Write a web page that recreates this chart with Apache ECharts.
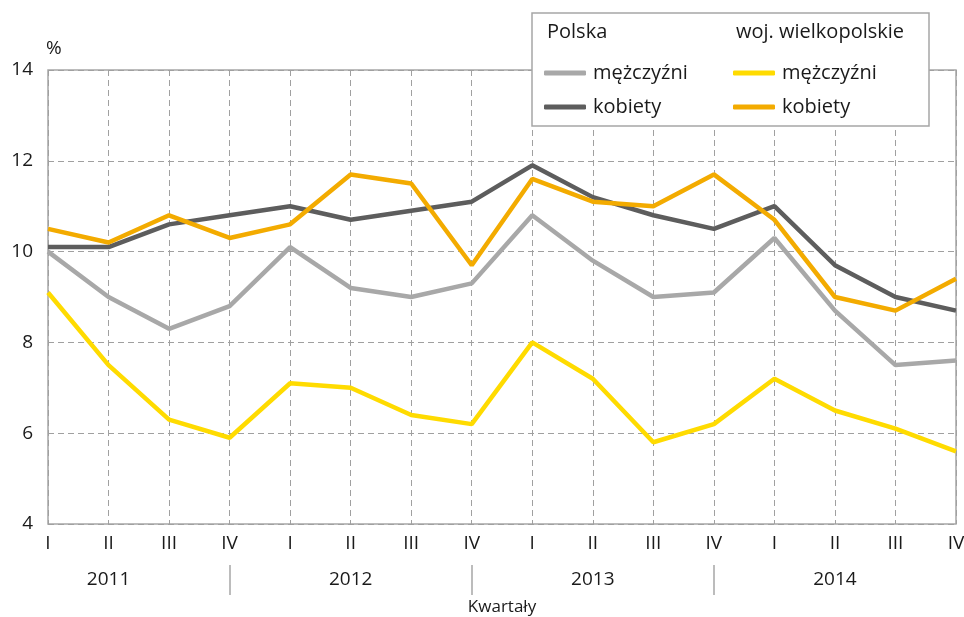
<!DOCTYPE html>
<html>
<head>
<meta charset="utf-8">
<script src="https://cdn.jsdelivr.net/npm/echarts@6/dist/echarts.min.js"></script>
<style>
  html, body { margin: 0; padding: 0; background: #fff; }
  #chart { width: 964px; height: 617px; }
</style>
</head>
<body>
<div id="chart"></div>
<script>
// quarters 2011-2014
var quarters = ['I', 'II', 'III', 'IV', 'I', 'II', 'III', 'IV', 'I', 'II', 'III', 'IV', 'I', 'II', 'III', 'IV'];
var years = ['', '2011', '', '', '', '2012', '', '', '', '2013', '', '', '', '2014', '', ''];

var plMen = [10.0, 9.0, 8.3, 8.8, 10.1, 9.2, 9.0, 9.3, 10.8, 9.8, 9.0, 9.1, 10.3, 8.7, 7.5, 7.6];
var plWomen = [10.1, 10.1, 10.6, 10.8, 11.0, 10.7, 10.9, 11.1, 11.9, 11.2, 10.8, 10.5, 11.0, 9.7, 9.0, 8.7];
var wlkpMen = [9.1, 7.5, 6.3, 5.9, 7.1, 7.0, 6.4, 6.2, 8.0, 7.2, 5.8, 6.2, 7.2, 6.5, 6.1, 5.6];
var wlkpWomen = [10.5, 10.2, 10.8, 10.3, 10.6, 11.7, 11.5, 9.7, 11.6, 11.1, 11.0, 11.7, 10.7, 9.0, 8.7, 9.4];

var yTicks = [4, 6, 8, 10, 12, 14];

var FONT = 'Open Sans';
var grey = '#a0a0a0';

var chart = echarts.init(document.getElementById('chart'));

function line(name, data, color) {
    return {
        name: name,
        type: 'line',
        data: data,
        symbol: 'none',
        color: color,
        lineStyle: { width: 4.5, color: color },
        z: 3
    };
}

var legendText = { fontSize: 20, color: '#1a1a1a', padding: [0, 0, 0, 2] };

var option = {
    animation: false,
    textStyle: { fontFamily: FONT },
    grid: {
        left: 48, right: 8, top: 70, bottom: 93,
        outerBoundsMode: 'none',
        show: true,
        borderColor: '#a6a6a6',
        borderWidth: 1.5
    },
    graphic: [
        {
            type: 'rect',
            z: 10,
            shape: { x: 532, y: 13, width: 397, height: 113 },
            style: { fill: '#fff', stroke: '#a6a6a6', lineWidth: 1.5 }
        },
        {
            type: 'text', z: 11, x: 547, y: 22,
            style: { text: 'Polska', fontSize: 20, fontFamily: FONT, fill: '#1a1a1a' }
        },
        {
            type: 'text', z: 11, x: 736, y: 22,
            style: { text: 'woj. wielkopolskie', fontSize: 20, fontFamily: FONT, fill: '#1a1a1a' }
        }
    ],
    legend: [
        {
            z: 20, left: 544, top: 63, orient: 'vertical', padding: 0,
            icon: 'roundRect', itemWidth: 42, itemHeight: 5, itemGap: 14,
            selectedMode: false,
            data: ['pl_m', 'pl_k'],
            formatter: function (n) { return n === 'pl_m' ? 'mężczyźni' : 'kobiety'; },
            textStyle: legendText
        },
        {
            z: 20, left: 733, top: 63, orient: 'vertical', padding: 0,
            icon: 'roundRect', itemWidth: 42, itemHeight: 5, itemGap: 14,
            selectedMode: false,
            data: ['wl_m', 'wl_k'],
            formatter: function (n) { return n === 'wl_m' ? 'mężczyźni' : 'kobiety'; },
            textStyle: legendText
        }
    ],
    xAxis: [
        {
            type: 'category',
            data: quarters,
            boundaryGap: false,
            name: 'Kwartały',
            nameLocation: 'middle',
            nameGap: 75,
            nameTextStyle: { fontSize: 17, color: '#1a1a1a' },
            axisLine: { show: false },
            axisTick: { show: false },
            axisLabel: { fontSize: 19, color: '#1a1a1a', margin: 10, interval: 0 },
            splitLine: { show: true, lineStyle: { color: grey, type: [6, 4], width: 1 } }
        },
        {
            type: 'category',
            data: years,
            boundaryGap: false,
            position: 'bottom',
            offset: 41,
            axisLine: { show: false },
            axisTick: {
                show: true,
                length: 30,
                lineStyle: { color: '#a6a6a6', width: 1.5 },
                interval: function (i) { return i === 3 || i === 7 || i === 11; }
            },
            axisLabel: { fontSize: 19, color: '#1a1a1a', margin: 5, interval: 0 },
            splitLine: { show: false }
        }
    ],
    yAxis: {
        type: 'value',
        min: yTicks[0],
        max: yTicks[yTicks.length - 1],
        interval: 2,
        name: '%',
        nameLocation: 'end',
        nameGap: 12,
        nameTextStyle: { fontSize: 19, color: '#1a1a1a', align: 'left', padding: [0, 0, 0, -2] },
        axisLine: { show: false },
        axisTick: { show: false },
        axisLabel: { fontSize: 19, color: '#1a1a1a', margin: 15 },
        splitLine: { show: true, lineStyle: { color: grey, type: [6, 4], width: 1 } }
    },
    series: [
        line('pl_m', plMen, '#a8a8a8'),
        line('pl_k', plWomen, '#5d5d5d'),
        line('wl_m', wlkpMen, '#ffdb00'),
        line('wl_k', wlkpWomen, '#f3ab00')
    ]
};

chart.setOption(option);
</script>
</body>
</html>
